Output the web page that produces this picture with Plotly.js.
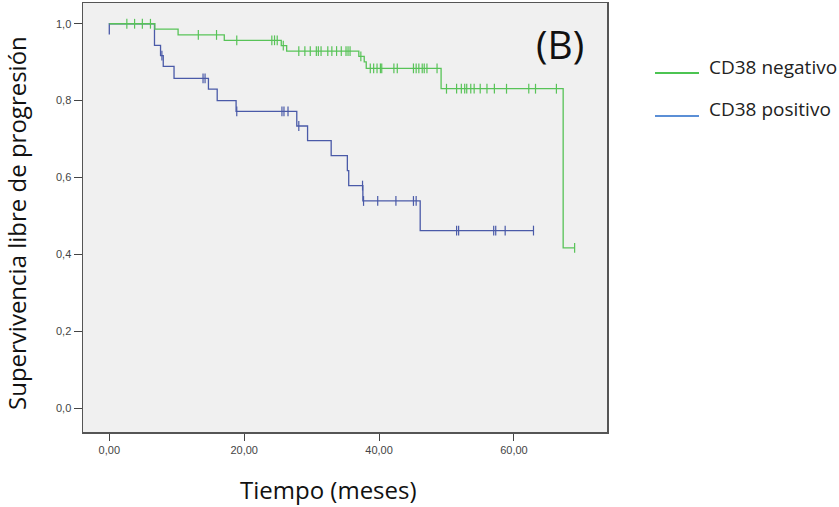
<!DOCTYPE html>
<html>
<head>
<meta charset="utf-8">
<script src="https://cdn.plot.ly/plotly-3.0.1.min.js"></script>
<style>html,body{margin:0;padding:0;background:#fff;}#chart{width:839px;height:507px;}</style>
</head>
<body>
<div id="chart"></div>
<script>
// Kaplan-Meier step curves (time in months, survival proportion)
const negTimes = [0, 6.75, 10.2, 17.05, 25.5, 26.3, 37.0, 37.8, 38.1, 49.2, 67.3, 69.0];
const negSurv  = [1.0, 0.986, 0.971, 0.957, 0.943, 0.929, 0.915, 0.901, 0.884, 0.831, 0.417, 0.417];
const negCensor = [2.6, 3.75, 4.9, 6.1, 13.2, 15.9, 18.9, 24.1, 24.5, 24.9, 25.8,
  28.1, 29.0, 29.8, 30.7, 31.0, 31.4, 32.4, 33.0, 33.7, 34.4, 35.1, 35.4, 35.7, 37.3,
  38.7, 39.2, 39.7, 40.2, 40.4, 42.2, 42.7, 45.1, 45.5, 45.9, 46.4, 46.7, 47.1, 48.6,
  50.0, 51.5, 52.2, 52.7, 53.0, 53.6, 54.1, 55.0, 56.0, 57.1, 58.9, 62.2, 63.2, 66.3, 69.0];

const posTimes = [0, 0, 6.7, 7.6, 8.0, 9.6, 14.7, 16.0, 18.8, 27.8, 29.4, 32.9, 35.3, 35.5, 37.6, 46.1, 62.9];
const posSurv  = [0.972, 1.0, 0.944, 0.917, 0.889, 0.858, 0.83, 0.80, 0.772, 0.734, 0.696, 0.657, 0.618, 0.579, 0.539, 0.462, 0.462];
const posCensor = [7.8, 13.9, 14.2, 18.9, 25.6, 25.9, 26.5, 28.1, 37.55, 37.7, 39.8, 42.5, 45.1, 45.5,
  51.5, 51.8, 57.0, 57.3, 58.7, 62.9];

const seriesNames = ["CD38 negativo", "CD38 positivo"];
const xTickVals = [0, 20, 40, 60];
const xTickText = ["0,00", "20,00", "40,00", "60,00"];
const yTickVals = [0, 0.2, 0.4, 0.6, 0.8, 1.0];
const yTickText = ["0,0", "0,2", "0,4", "0,6", "0,8", "1,0"];

const GREEN = "#58c358", BLUE = "#4a5aa8";
const LEG_GREEN = "#4cc452", LEG_BLUE = "#5b8fd6";

function stepAt(times, surv, t) {
  let v = surv[0];
  for (let i = 0; i < times.length; i++) { if (times[i] <= t) v = surv[i]; }
  return v;
}

const traces = [
  {x: posTimes, y: posSurv, mode: "lines", line: {shape: "hv", color: BLUE, width: 1.3}, name: seriesNames[1], showlegend: false, hoverinfo: "skip"},
  {x: posCensor, y: posCensor.map(t => stepAt(posTimes, posSurv, t)), mode: "markers",
   marker: {symbol: "line-ns", size: 7, line: {color: BLUE, width: 1.2}}, showlegend: false, hoverinfo: "skip"},
  {x: negTimes, y: negSurv, mode: "lines", line: {shape: "hv", color: GREEN, width: 1.3}, name: seriesNames[0], showlegend: false, hoverinfo: "skip"},
  {x: negCensor, y: negCensor.map(t => stepAt(negTimes, negSurv, t)), mode: "markers",
   marker: {symbol: "line-ns", size: 7, line: {color: GREEN, width: 1.2}}, showlegend: false, hoverinfo: "skip"}
];

const L = 83, R = 232, T = 3, B = 75, W = 839, H = 507;
const pw = W - L - R, ph = H - T - B;
const px = v => (v - L) / pw;
const py = v => (H - B - v) / ph;

const layout = {
  width: W, height: H,
  margin: {l: L, r: R, t: T, b: B},
  paper_bgcolor: "#ffffff",
  plot_bgcolor: "#f0f0f0",
  showlegend: false,
  font: {family: "Liberation Sans, Arial, sans-serif", color: "#333"},
  xaxis: {range: [-3.9, 73.8], tickvals: xTickVals, ticktext: xTickText, ticks: "outside", ticklen: 7, tickcolor: "#444",
          showgrid: false, zeroline: false, showline: true, linecolor: "#555", linewidth: 1.5, mirror: true,
          tickfont: {size: 11, color: "#444"}},
  yaxis: {range: [-0.062, 1.054], tickvals: yTickVals, ticktext: yTickText, ticks: "outside", ticklen: 8, tickcolor: "#444",
          showgrid: false, zeroline: false, showline: true, linecolor: "#555", linewidth: 1.5, mirror: true,
          tickfont: {size: 11, color: "#444"}},
  shapes: [
    {type: "line", xref: "paper", yref: "paper", x0: px(655), x1: px(699), y0: py(73), y1: py(73), line: {color: LEG_GREEN, width: 2}},
    {type: "line", xref: "paper", yref: "paper", x0: px(655), x1: px(699), y0: py(116), y1: py(116), line: {color: LEG_BLUE, width: 2}}
  ],
  annotations: [
    {text: "Supervivencia libre de progresión", xref: "paper", yref: "paper", x: px(17), y: py(223), textangle: -90,
     showarrow: false, xanchor: "center", yanchor: "middle", borderpad: 0, font: {family: "Open Sans", size: 24, color: "#111"}},
    {text: "Tiempo (meses)", xref: "paper", yref: "paper", x: px(328), y: py(489),
     showarrow: false, xanchor: "center", yanchor: "middle", borderpad: 0, font: {family: "Open Sans", size: 24, color: "#111"}},
    {text: "(B)", xref: "paper", yref: "paper", x: px(560), y: py(44),
     showarrow: false, xanchor: "center", yanchor: "middle", font: {family: "Open Sans", size: 39, color: "#111"}},
    {text: seriesNames[0], xref: "paper", yref: "paper", x: px(707), y: py(67),
     showarrow: false, xanchor: "left", yanchor: "middle", font: {family: "Open Sans", size: 19, color: "#222"}},
    {text: seriesNames[1], xref: "paper", yref: "paper", x: px(707), y: py(109),
     showarrow: false, xanchor: "left", yanchor: "middle", font: {family: "Open Sans", size: 19, color: "#222"}}
  ]
};

Plotly.newPlot("chart", traces, layout, {staticPlot: true, displayModeBar: false});
</script>
</body>
</html>
